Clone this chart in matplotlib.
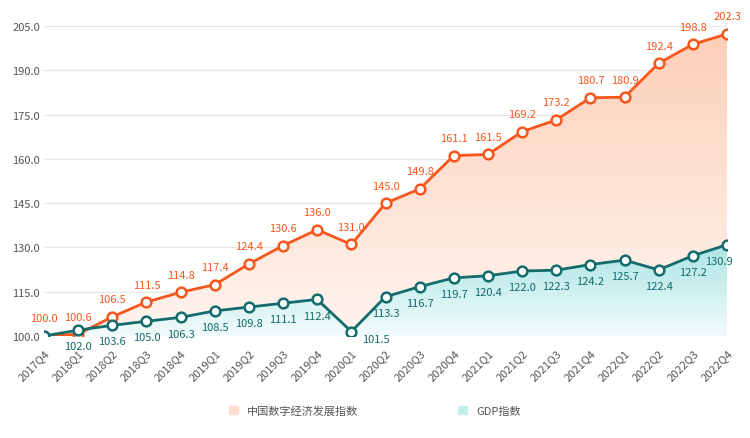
import numpy as np
import matplotlib.pyplot as plt
from matplotlib.patches import Polygon
from matplotlib.colors import LinearSegmentedColormap

plt.rcParams['font.family'] = ['Noto Sans CJK SC', 'DejaVu Sans']

quarters = ['2017Q4', '2018Q1', '2018Q2', '2018Q3', '2018Q4', '2019Q1', '2019Q2',
            '2019Q3', '2019Q4', '2020Q1', '2020Q2', '2020Q3', '2020Q4', '2021Q1',
            '2021Q2', '2021Q3', '2021Q4', '2022Q1', '2022Q2', '2022Q3', '2022Q4']
digital = [100.0, 100.6, 106.5, 111.5, 114.8, 117.4, 124.4, 130.6, 136.0, 131.0, 145.0,
           149.8, 161.1, 161.5, 169.2, 173.2, 180.7, 180.9, 192.4, 198.8, 202.3]
gdp = [100.0, 102.0, 103.6, 105.0, 106.3, 108.5, 109.8, 111.1, 112.4, 101.5, 113.3,
       116.7, 119.7, 120.4, 122.0, 122.3, 124.2, 125.7, 122.4, 127.2, 130.9]
yticks = [100.0, 115.0, 130.0, 145.0, 160.0, 175.0, 190.0, 205.0]

orange = '#f7561c'
teal = '#136b6b'

fig = plt.figure(figsize=(7.5, 4.39), dpi=100)
ax = fig.add_axes([44 / 750, 102 / 439, 683 / 750, 310 / 439])
x = np.arange(len(quarters))
ymin, ymax = 100, 205

def grad_fill(yvals, c_top, c_bot, z):
    cmap = LinearSegmentedColormap.from_list('g', [c_bot, c_top])
    grad = np.linspace(0, 1, 256).reshape(-1, 1)
    im = ax.imshow(grad, extent=[0, len(x) - 1, ymin, max(yvals)], origin='lower',
                   aspect='auto', cmap=cmap, zorder=z)
    verts = [(0, ymin)] + list(zip(x, yvals)) + [(len(x) - 1, ymin)]
    poly = Polygon(verts, closed=True, facecolor='none', edgecolor='none')
    ax.add_patch(poly)
    im.set_clip_path(poly)

grad_fill(digital, '#fdcfb8', '#fff5f0', 1)
grad_fill(gdp, '#ace5e5', '#f2fbfb', 2)

ax.plot(x, digital, color=orange, lw=2, marker='o', ms=7, mfc='white', mec=orange, mew=1.8, zorder=4)
ax.plot(x, gdp, color=teal, lw=2, marker='o', ms=7, mfc='white', mec=teal, mew=1.8, zorder=5)

for i, v in enumerate(digital):
    ax.annotate(f'{v:.1f}', (i, v), xytext=(0, 9), textcoords='offset points',
                ha='center', va='bottom', fontsize=8, color=orange)
for i, v in enumerate(gdp):
    if i == 0:
        continue
    if i == 9:
        ax.annotate(f'{v:.1f}', (i, v), xytext=(8, -2), textcoords='offset points',
                    ha='left', va='top', fontsize=8, color=teal)
        continue
    dx = -6 if i == len(gdp) - 1 else 0
    ax.annotate(f'{v:.1f}', (i, v), xytext=(dx, -8), textcoords='offset points',
                ha='center', va='top', fontsize=8, color=teal)

ax.set_xlim(0, len(x) - 1)
ax.set_ylim(ymin, ymax)
ax.set_yticks(yticks)
ax.set_yticklabels([f'{t:.1f}' for t in yticks], fontsize=8, color='#555555')
ax.set_xticks(x)
ax.set_xticklabels(quarters, rotation=45, ha='right', rotation_mode='anchor', fontsize=8, color='#555555')
ax.grid(axis='y', color='#e6e6e6', lw=1)
ax.set_axisbelow(True)
for s in ax.spines.values():
    s.set_visible(False)
ax.tick_params(axis='y', length=0, pad=3)
ax.tick_params(axis='x', length=0, pad=8)

h1 = plt.Rectangle((0, 0), 1, 1, color='#fde0d3')
h2 = plt.Rectangle((0, 0), 1, 1, color='#c6eeee')
fig.legend([h1, h2], ['中国数字经济发展指数', 'GDP指数'], loc='center', bbox_to_anchor=(0.5, 0.063),
           ncol=2, frameon=False, fontsize=8, handlelength=0.8, handleheight=0.8,
           columnspacing=9, labelcolor='#555555')

fig.savefig('out.png', dpi=100)
